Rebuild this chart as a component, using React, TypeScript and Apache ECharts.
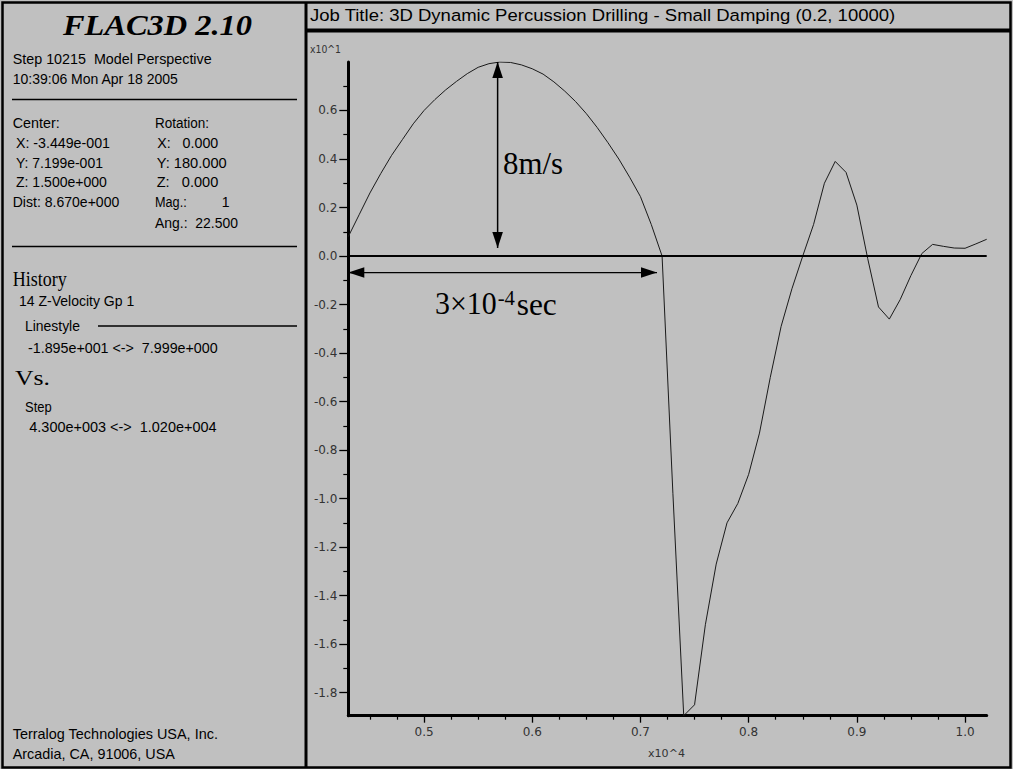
import React, { useEffect, useRef } from 'react';
import * as echarts from 'echarts';

// History 14: Z-velocity of gridpoint 1 (x10^1 m/s) against step (x10^4)
const steps = [
  0.43, 0.44, 0.45, 0.46, 0.47, 0.48, 0.49, 0.5, 0.51, 0.52, 0.53, 0.54, 0.55, 0.56, 0.57,
  0.58, 0.59, 0.6, 0.61, 0.62, 0.63, 0.64, 0.65, 0.66, 0.67, 0.68, 0.69, 0.7, 0.71, 0.72,
  0.73, 0.74, 0.75, 0.76, 0.77, 0.78, 0.79, 0.8, 0.81, 0.82, 0.83, 0.84, 0.85, 0.86, 0.87,
  0.88, 0.89, 0.9, 0.91, 0.92, 0.93, 0.94, 0.95, 0.96, 0.97, 0.98, 0.99, 1.0, 1.01, 1.02,
];
const zVelocity = [
  0.08, 0.17, 0.26, 0.34, 0.415, 0.48, 0.545, 0.6, 0.645, 0.685, 0.72, 0.752, 0.778, 0.793, 0.7999,
  0.798, 0.788, 0.772, 0.75, 0.718, 0.68, 0.637, 0.587, 0.53, 0.467, 0.4, 0.325, 0.245, 0.13, 0.0,
  -0.98, -1.895, -1.85, -1.52, -1.27, -1.1, -1.02, -0.9, -0.73, -0.5, -0.29, -0.135, 0.0, 0.13, 0.3,
  0.39, 0.345, 0.21, -0.01, -0.21, -0.26, -0.18, -0.08, 0.01, 0.048, 0.04, 0.033, 0.032, 0.05, 0.069,
];

// Axis ranges and tick positions
const stepRange = [0.43, 1.02];
const velocityRange = [-1.895, 0.7999];
const xMajorTicks = [0.5, 0.6, 0.7, 0.8, 0.9, 1.0];
const xMinorTicks = [
  0.45, 0.475, 0.525, 0.55, 0.575, 0.625, 0.65, 0.675, 0.725, 0.75, 0.775, 0.825, 0.85, 0.875,
  0.925, 0.95, 0.975,
];
const yMajorTicks = [-1.8, -1.6, -1.4, -1.2, -1.0, -0.8, -0.6, -0.4, -0.2, 0.0, 0.2, 0.4, 0.6];
const yMinorTicks = [-1.7, -1.5, -1.3, -1.1, -0.9, -0.7, -0.5, -0.3, -0.1, 0.1, 0.3, 0.5, 0.7];

// Annotation anchors (data units): pulse amplitude and pulse duration
const peakStep = 0.568;
const peakVelocity = 0.7999;
const amplitudeArrowFoot = 0.033;
const pulseStart = 0.43;
const pulseEnd = 0.7153;
const durationArrowLevel = -0.068;

const SANS = '"Liberation Sans", Arial, sans-serif';
const SERIF = '"Liberation Serif", "Times New Roman", serif';
const LABEL = '"DejaVu Sans", sans-serif';

type Txt = {
  text: string;
  x: number;
  y: number;
  w?: number;
  size?: number;
  family?: string;
  weight?: string;
  italic?: boolean;
  color?: string;
};

const panelTexts: Txt[] = [
  { text: 'FLAC3D 2.10', x: 63, y: 25, w: 189, size: 30, family: SERIF, weight: 'bold', italic: true },
  { text: 'Step 10215  Model Perspective', x: 12.7, y: 59, w: 199 },
  { text: '10:39:06 Mon Apr 18 2005', x: 12.7, y: 79, w: 166 },
  { text: 'Center:', x: 12.7, y: 123, w: 47 },
  { text: 'Rotation:', x: 155, y: 123, w: 54 },
  { text: 'X: -3.449e-001', x: 16, y: 143, w: 94 },
  { text: 'X:   0.000', x: 157.3, y: 143, w: 61 },
  { text: 'Y: 7.199e-001', x: 16, y: 163, w: 87 },
  { text: 'Y: 180.000', x: 156.7, y: 163, w: 70 },
  { text: 'Z: 1.500e+000', x: 16, y: 182.5, w: 91 },
  { text: 'Z:   0.000', x: 156.7, y: 182.5, w: 61.6 },
  { text: 'Dist: 8.670e+000', x: 12.7, y: 202, w: 106.7 },
  { text: 'Mag.:', x: 155, y: 202, w: 31.7 },
  { text: '1', x: 221.7, y: 202 },
  { text: 'Ang.:  22.500', x: 155, y: 223, w: 83 },
  { text: 'History', x: 12.7, y: 278.3, w: 54, size: 22, family: SERIF },
  { text: '14 Z-Velocity Gp 1', x: 19, y: 300.5 },
  { text: 'Linestyle', x: 25, y: 325.8, w: 55 },
  { text: '-1.895e+001 <->  7.999e+000', x: 28, y: 348, w: 190 },
  { text: 'Vs.', x: 15, y: 378, w: 35, size: 21, family: SERIF },
  { text: 'Step', x: 25, y: 407.5, w: 26.7 },
  { text: '4.300e+003 <->  1.020e+004', x: 29.3, y: 426.7, w: 187.4 },
  { text: 'Terralog Technologies USA, Inc.', x: 12.7, y: 734, w: 205.6 },
  { text: 'Arcadia, CA, 91006, USA', x: 12.7, y: 754, w: 162.3 },
  {
    text: 'Job Title: 3D Dynamic Percussion Drilling - Small Damping (0.2, 10000)',
    x: 310, y: 15.5, w: 586, size: 17,
  },
  { text: 'x10^1', x: 310, y: 49, w: 31, size: 10, family: LABEL, color: '#333' },
  { text: 'x10^4', x: 648, y: 753, w: 37, size: 10, family: LABEL, color: '#333' },
  { text: '8m/s', x: 503, y: 163.3, w: 60, size: 31, family: SERIF },
  { text: '3×10', x: 435, y: 304.2, w: 61.7, size: 31, family: SERIF },
  { text: '-4', x: 497.7, y: 298, w: 17.3, size: 20, family: SERIF },
  { text: 'sec', x: 516.7, y: 304.2, w: 40, size: 31, family: SERIF },
];

export default function App() {
  const ref = useRef<HTMLDivElement>(null);

  useEffect(() => {
    const el = ref.current;
    if (!el) return;
    const chart = echarts.init(el, undefined, { renderer: 'svg' });

    const axisLabelStyle = { color: '#333', fontSize: 12, fontFamily: LABEL };

    chart.setOption({
      animation: false,
      backgroundColor: '#c0c0c0',
      grid: { left: 348.3, right: 26.3, top: 62, bottom: 53.3 },
      xAxis: [
        {
          type: 'value',
          position: 'bottom',
          min: stepRange[0],
          max: stepRange[1],
          axisLine: { show: true, onZero: false, lineStyle: { color: '#000', width: 3 } },
          axisTick: { show: true, customValues: xMajorTicks, length: 7, lineStyle: { color: '#000', width: 1.3 } },
          axisLabel: {
            show: true,
            customValues: xMajorTicks,
            margin: 10,
            formatter: (v: number) => v.toFixed(1),
            ...axisLabelStyle,
          },
          splitLine: { show: false },
        },
        {
          type: 'value',
          position: 'bottom',
          min: stepRange[0],
          max: stepRange[1],
          axisLine: { show: false, onZero: false },
          axisTick: { show: true, customValues: xMinorTicks, length: 4, lineStyle: { color: '#000', width: 1.2 } },
          axisLabel: { show: false },
          splitLine: { show: false },
        },
      ],
      yAxis: [
        {
          type: 'value',
          position: 'left',
          min: velocityRange[0],
          max: velocityRange[1],
          axisLine: { show: true, onZero: false, lineStyle: { color: '#000', width: 3 } },
          axisTick: { show: true, customValues: yMajorTicks, length: 9, lineStyle: { color: '#000', width: 1.3 } },
          axisLabel: {
            show: true,
            customValues: yMajorTicks,
            margin: 11,
            formatter: (v: number) => v.toFixed(1),
            ...axisLabelStyle,
          },
          splitLine: { show: false },
        },
        {
          type: 'value',
          position: 'left',
          min: velocityRange[0],
          max: velocityRange[1],
          axisLine: { show: false, onZero: false },
          axisTick: { show: true, customValues: yMinorTicks, length: 5, lineStyle: { color: '#000', width: 1.2 } },
          axisLabel: { show: false },
          splitLine: { show: false },
        },
      ],
      series: [
        {
          type: 'line',
          xAxisIndex: 0,
          yAxisIndex: 0,
          data: steps.map((s, i) => [s, zVelocity[i]]),
          showSymbol: false,
          symbol: 'none',
          lineStyle: { color: '#1a1a1a', width: 1 },
          markLine: {
            silent: true,
            symbol: ['none', 'none'],
            label: { show: false },
            lineStyle: { color: '#000', width: 2, type: 'solid' },
            data: [{ yAxis: 0 }],
          },
        },
      ],
    });

    const px = (x: number, y: number) =>
      chart.convertToPixel({ gridIndex: 0 }, [x, y]) as number[];

    // Double-headed arrow between two pixel points
    const arrow = (a: number[], b: number[], width: number) => {
      const dx = b[0] - a[0];
      const dy = b[1] - a[1];
      const len = Math.hypot(dx, dy) || 1;
      const ux = dx / len;
      const uy = dy / len;
      const L = 16;
      const W = 5.3;
      const head = (tip: number[], sx: number, sy: number) => ({
        type: 'polygon',
        z: 20,
        shape: {
          points: [
            [tip[0], tip[1]],
            [tip[0] - sx * L - sy * W, tip[1] - sy * L + sx * W],
            [tip[0] - sx * L + sy * W, tip[1] - sy * L - sx * W],
          ],
        },
        style: { fill: '#000' },
      });
      return [
        {
          type: 'line',
          z: 19,
          shape: { x1: a[0], y1: a[1], x2: b[0], y2: b[1] },
          style: { stroke: '#000', lineWidth: width },
        },
        head(b, ux, uy),
        head(a, -ux, -uy),
      ];
    };

    const ctx = document.createElement('canvas').getContext('2d');
    const textEl = (t: Txt) => {
      const size = t.size ?? 14;
      const family = t.family ?? SANS;
      const weight = t.weight ?? 'normal';
      const fontStyle = t.italic ? 'italic' : 'normal';
      let scaleX = 1;
      if (t.w && ctx) {
        ctx.font = `${fontStyle} ${weight} ${size}px ${family}`;
        const m = ctx.measureText(t.text).width;
        if (m > 0) scaleX = t.w / m;
      }
      return {
        type: 'text',
        z: 30,
        x: t.x,
        y: t.y,
        scaleX,
        style: {
          text: t.text,
          fontSize: size,
          fontFamily: family,
          fontWeight: weight,
          fontStyle,
          fill: t.color ?? '#000',
          align: 'left',
          verticalAlign: 'middle',
        },
      };
    };

    const frame = [
      {
        type: 'rect',
        z: 25,
        shape: { x: 2.5, y: 2.5, width: 1008, height: 765 },
        style: { fill: 'none', stroke: '#000', lineWidth: 2.5 },
      },
      {
        type: 'line',
        z: 25,
        shape: { x1: 306, y1: 2, x2: 306, y2: 768 },
        style: { stroke: '#000', lineWidth: 3 },
      },
      {
        type: 'line',
        z: 25,
        shape: { x1: 306, y1: 30.5, x2: 1011, y2: 30.5 },
        style: { stroke: '#000', lineWidth: 4 },
      },
      {
        type: 'line',
        z: 25,
        shape: { x1: 12, y1: 99.5, x2: 297, y2: 99.5 },
        style: { stroke: '#000', lineWidth: 1.3 },
      },
      {
        type: 'line',
        z: 25,
        shape: { x1: 12, y1: 246.5, x2: 297, y2: 246.5 },
        style: { stroke: '#000', lineWidth: 1.3 },
      },
      {
        type: 'line',
        z: 25,
        shape: { x1: 98, y1: 326, x2: 297, y2: 326 },
        style: { stroke: '#000', lineWidth: 1.3 },
      },
    ];

    chart.setOption({
      graphic: [
        ...frame,
        ...arrow(px(peakStep, amplitudeArrowFoot), px(peakStep, peakVelocity), 1.5),
        ...arrow(px(pulseStart, durationArrowLevel), px(pulseEnd, durationArrowLevel), 1.3),
        ...panelTexts.map(textEl),
      ],
    });

    return () => chart.dispose();
  }, []);

  return (
    <div
      ref={ref}
      style={{ position: 'absolute', left: 0, top: 0, width: 1013, height: 769 }}
    />
  );
}
